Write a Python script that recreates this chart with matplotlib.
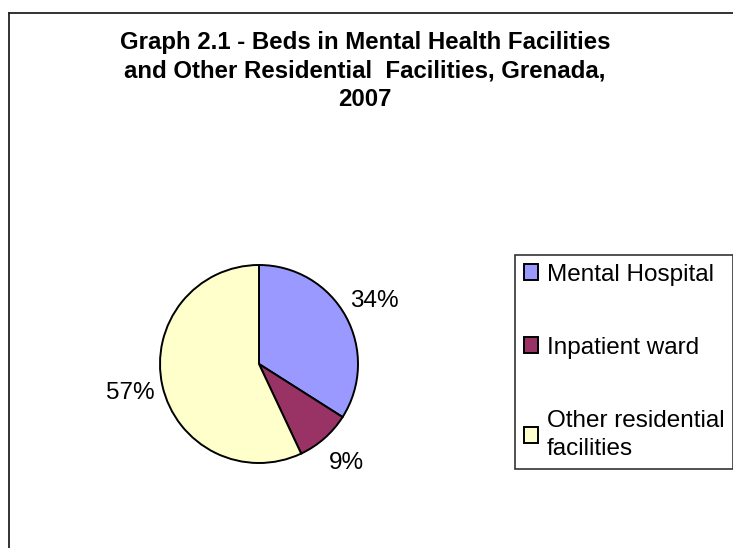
import matplotlib
matplotlib.use("Agg")
import matplotlib.pyplot as plt
from matplotlib.lines import Line2D

plt.rcParams['font.family'] = ['Liberation Sans', 'DejaVu Sans']

categories = ["Mental Hospital", "Inpatient ward", "Other residential\nfacilities"]
values = [34, 9, 57]
colors = ["#9999FF", "#993366", "#FFFFCC"]
title = "Graph 2.1 - Beds in Mental Health Facilities\nand Other Residential  Facilities, Grenada,\n2007"

W, H = 733, 548
fig = plt.figure(figsize=(W / 100, H / 100), dpi=100)
fig.patch.set_facecolor("white")

# outer chart frame (cropped at right and bottom)
fx, fy = 9 / W, 1 - 13 / H
fig.add_artist(Line2D([fx, fx], [0, fy], transform=fig.transFigure, color="#222222", lw=1.3))
fig.add_artist(Line2D([fx, 1.0], [fy, fy], transform=fig.transFigure, color="#222222", lw=1.3))

# pie axes: centre (259, 364) px, radius 99 px
r = 99
cx, cy = 259, H - 364
ax = fig.add_axes([(cx - 1.5 * r) / W, (cy - 1.5 * r) / H, 3 * r / W, 3 * r / H])
wedges, texts, autotexts = ax.pie(
    values, colors=colors, startangle=90, counterclock=False,
    autopct=lambda p: f"{p:.0f}%", pctdistance=1.33,
    wedgeprops=dict(edgecolor="black", linewidth=1.4),
    textprops=dict(fontsize=17.5, color="black"), radius=1.0)
ax.set_xlim(-1.5, 1.5)
ax.set_ylim(-1.5, 1.5)
ax.set_aspect("equal")
ax.axis("off")

fig.text(365 / W, 1 - 31 / H, title, ha="center", va="top", fontsize=17.3,
         fontweight="bold", linespacing=1.3)

leg = fig.legend(wedges, categories, loc="upper left",
                 bbox_to_anchor=(515 / W, 1 - 255 / H), bbox_transform=fig.transFigure,
                 frameon=True, fancybox=False, edgecolor="black", fontsize=17.5,
                 handlelength=0.6, handleheight=0.6, handletextpad=0.35,
                 labelspacing=2.1, borderpad=0.35, borderaxespad=0)
leg.get_frame().set_linewidth(1.2)
for t in leg.get_texts():
    t.set_linespacing(1.4)

fig.savefig("out.png", dpi=100)
